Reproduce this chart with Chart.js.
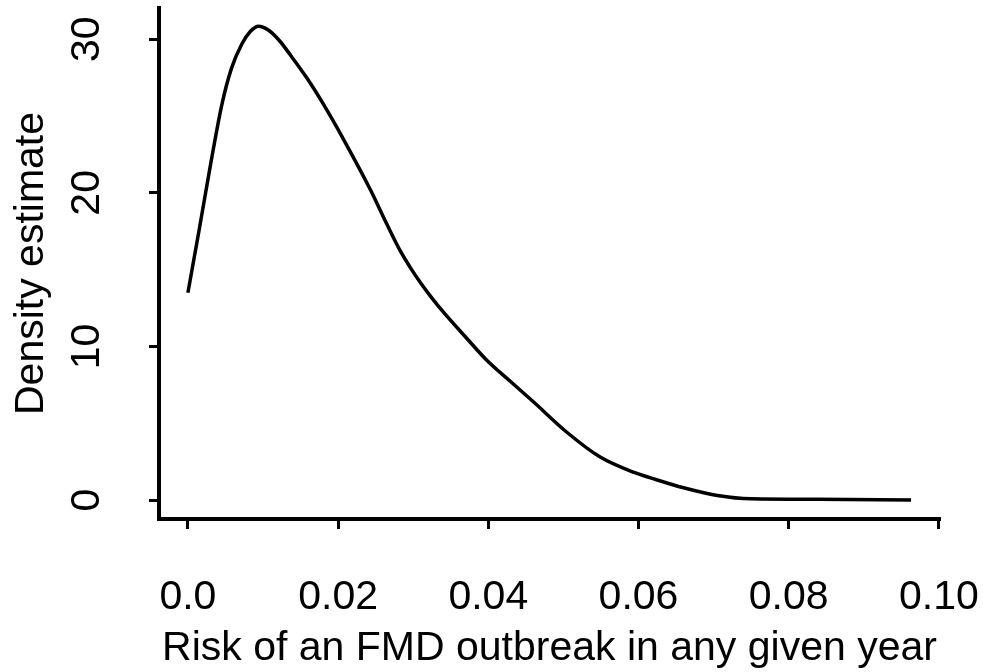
<!DOCTYPE html>
<html>
<head>
<meta charset="utf-8">
<script src="https://cdn.jsdelivr.net/npm/chart.js@4"></script>
<style>
  html, body { margin: 0; padding: 0; background: #fff; }
  #wrap { width: 983px; height: 672px; }
</style>
</head>
<body>
<div id="wrap"><canvas id="density-chart" width="983" height="672"></canvas></div>
<script>
// kernel density of the yearly FMD outbreak risk
const riskValues = [0, 0.0015, 0.003, 0.0045, 0.0058, 0.0072, 0.0083, 0.0094, 0.0107,
  0.0122, 0.0136, 0.0158, 0.018, 0.0207, 0.0243, 0.0265, 0.0283, 0.0296, 0.0309,
  0.0325, 0.034, 0.037, 0.0398, 0.043, 0.046, 0.0505, 0.0549, 0.0594, 0.0616,
  0.066, 0.0705, 0.075, 0.0838, 0.0963]
const densityValues = [13.5, 17.6, 21.8, 25.7, 28.1, 29.7, 30.5, 30.85, 30.6,
  29.9, 29.0, 27.5, 25.8, 23.5, 20.2, 17.95, 16.2, 15.15, 14.2,
  13.15, 12.25, 10.6, 9.1, 7.7, 6.4, 4.4, 2.8, 1.8, 1.45,
  0.8, 0.3, 0.08, 0.05, 0.0]
const xTicks = [0, 0.02, 0.04, 0.06, 0.08, 0.1]
const xTickLabels = ['0.0', '0.02', '0.04', '0.06', '0.08', '0.10']
const yTicks = [0, 10, 20, 30]
const yTickLabels = ['0', '10', '20', '30']

const FONT = "'Liberation Sans', Arial, sans-serif"
const FONT_SIZE = 41

const points = riskValues.map((r, i) => ({ x: r, y: densityValues[i] }))

// y tick labels are rotated like in base R, so draw them here
const rotatedYLabels = {
  id: 'rotatedYLabels',
  afterDraw(chart) {
    const ctx = chart.ctx
    const yScale = chart.scales.y
    ctx.save()
    ctx.fillStyle = '#000'
    ctx.font = FONT_SIZE + 'px ' + FONT
    ctx.textAlign = 'center'
    ctx.textBaseline = 'alphabetic'
    yTicks.forEach((v, i) => {
      const py = yScale.getPixelForValue(v)
      ctx.save()
      ctx.translate(99, py)
      ctx.rotate(-Math.PI / 2)
      ctx.fillText(yTickLabels[i], 0, 0)
      ctx.restore()
    })
    ctx.restore()
  },
}

const config = {
  type: 'line',
  data: {
    datasets: [
      {
        data: points,
        borderColor: '#000',
        borderWidth: 3.5,
        pointRadius: 0,
        fill: false,
        cubicInterpolationMode: 'monotone',
      },
    ],
  },
  options: {
    responsive: false,
    animation: false,
    devicePixelRatio: 1,
    layout: {
      padding: { top: 8, right: 43, bottom: 0, left: 0 },
    },
    plugins: {
      legend: { display: false },
      tooltip: { enabled: false },
    },
    scales: {
      x: {
        type: 'linear',
        min: -0.00385,
        max: 0.10015,
        afterBuildTicks: (scale) => {
          scale.ticks = xTicks.map((v) => ({ value: v }))
        },
        afterFit: (scale) => {
          scale.height = 153
          scale.paddingLeft = 0
          scale.paddingRight = 0
        },
        grid: {
          drawOnChartArea: false,
          drawTicks: true,
          tickLength: 10,
          tickWidth: 3,
          tickColor: '#000',
        },
        border: { display: true, color: '#000', width: 4 },
        ticks: {
          color: '#000',
          padding: 44,
          maxRotation: 0,
          autoSkip: false,
          font: { family: FONT, size: FONT_SIZE },
          callback: (value) => {
            const i = xTicks.indexOf(value)
            return i >= 0 ? xTickLabels[i] : ''
          },
        },
        title: {
          display: true,
          text: 'Risk of an FMD outbreak in any given year',
          color: '#000',
          font: { family: FONT, size: FONT_SIZE },
          padding: { top: 0, bottom: -1.5 },
        },
      },
      y: {
        type: 'linear',
        min: -1.23,
        max: 32.03,
        afterBuildTicks: (scale) => {
          scale.ticks = yTicks.map((v) => ({ value: v }))
        },
        afterFit: (scale) => {
          scale.width = 159
          scale.paddingTop = 0
          scale.paddingBottom = 0
        },
        grid: {
          drawOnChartArea: false,
          drawTicks: true,
          tickLength: 10,
          tickWidth: 3,
          tickColor: '#000',
        },
        border: { display: true, color: '#000', width: 4 },
        ticks: { display: false },
        title: {
          display: true,
          text: 'Density estimate',
          color: '#000',
          font: { family: FONT, size: FONT_SIZE },
          padding: { top: 7.5, bottom: 0 },
        },
      },
    },
  },
  plugins: [rotatedYLabels],
}

new Chart(document.querySelector('#density-chart'), config)
</script>
</body>
</html>
